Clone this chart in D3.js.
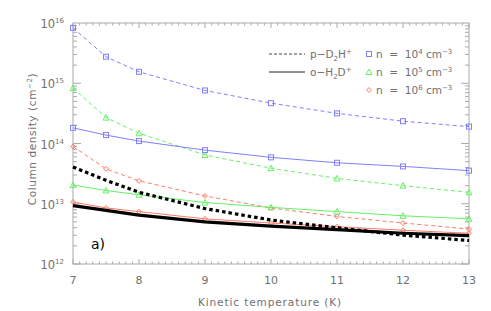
<!DOCTYPE html>
<html>
<head>
<meta charset="utf-8">
<script src="https://cdn.jsdelivr.net/npm/d3@7"></script>
<style>
  body { margin: 0; background: #fff; }
  text { font-family: "DejaVu Sans", sans-serif; fill: #707070; }
</style>
</head>
<body>
<svg id="chart" width="491" height="311"></svg>
<script>
// temperatures (K)
var temps = [7, 7.5, 8, 9, 10, 11, 12, 13];

// log10 column densities
var pD2H_n4 = [15.92, 15.44, 15.19, 14.88, 14.67, 14.50, 14.37, 14.28];
var oH2D_n4 = [14.26, 14.14, 14.04, 13.89, 13.77, 13.68, 13.62, 13.55];
var pD2H_n5 = [14.92, 14.43, 14.17, 13.81, 13.59, 13.42, 13.30, 13.19];
var oH2D_n5 = [13.31, 13.22, 13.15, 13.02, 12.94, 12.87, 12.80, 12.75];
var pD2H_n6 = [13.95, 13.58, 13.38, 13.13, 12.93, 12.79, 12.68, 12.58];
var oH2D_n6 = [13.03, 12.93, 12.87, 12.75, 12.68, 12.62, 12.56, 12.51];
var pD2H_blk = [13.61, 13.39, 13.19, 12.92, 12.73, 12.60, 12.48, 12.39];
var oH2D_blk = [12.97, 12.89, 12.81, 12.70, 12.63, 12.57, 12.51, 12.47];

var yTicks = [12, 13, 14, 15, 16];
var xTicks = [7, 8, 9, 10, 11, 12, 13];

var svg = d3.select('#chart');
var pLeft = 73, pRight = 469, pTop = 23, pBottom = 264;

var x = d3.scaleLinear().domain([7, 13]).range([pLeft, pRight]);
var y = d3.scaleLog().domain([1e12, 1e16]).range([pBottom, pTop]);

var axisCol = '#aaa';

// x ticks (minor every 0.1)
var xMinor = d3.range(70, 131).map(function(d) { return d / 10; });
xMinor.forEach(function(t) {
	var major = Math.abs(t - Math.round(t)) < 1e-6;
	var len = major ? 5 : 2.5;
	svg.append('line').attr('x1', x(t)).attr('x2', x(t))
		.attr('y1', pBottom).attr('y2', pBottom - len)
		.style('stroke', axisCol);
	svg.append('line').attr('x1', x(t)).attr('x2', x(t))
		.attr('y1', pTop).attr('y2', pTop + len)
		.style('stroke', axisCol);
});
xTicks.forEach(function(t) {
	svg.append('text')
		.attr('x', x(t)).attr('y', 284)
		.attr('text-anchor', 'middle')
		.style('font-size', '11px')
		.text(t);
});

// y ticks (log minor)
for (var e = 12; e < 16; e++) {
	for (var m = 1; m <= 9; m++) {
		var v = m * Math.pow(10, e);
		var len = m === 1 ? 8 : 4;
		svg.append('line').attr('x1', pLeft).attr('x2', pLeft + len)
			.attr('y1', y(v)).attr('y2', y(v)).style('stroke', axisCol);
		svg.append('line').attr('x1', pRight).attr('x2', pRight - len)
			.attr('y1', y(v)).attr('y2', y(v)).style('stroke', axisCol);
	}
}
yTicks.forEach(function(e) {
	var t = svg.append('text')
		.attr('x', 64).attr('y', y(Math.pow(10, e)) + 5)
		.attr('text-anchor', 'end')
		.style('font-size', '11.5px');
	t.append('tspan').text('10');
	t.append('tspan').attr('dy', -5).style('font-size', '7px').text(e);
});

// frame
svg.append('rect')
	.attr('x', pLeft).attr('y', pTop)
	.attr('width', pRight - pLeft).attr('height', pBottom - pTop)
	.style('fill', 'none').style('stroke', axisCol).style('stroke-width', 1);

// axis titles
svg.append('text')
	.attr('x', 270).attr('y', 306)
	.attr('text-anchor', 'middle')
	.style('font-size', '10.5px')
	.style('letter-spacing', '0.9px')
	.text('Kinetic temperature (K)');

var yt = svg.append('text')
	.attr('transform', 'translate(36,139) rotate(-90)')
	.attr('text-anchor', 'middle')
	.style('font-size', '10.5px')
	.style('letter-spacing', '0.6px');
yt.append('tspan').text('Column density (cm');
yt.append('tspan').attr('dy', -4).style('font-size', '7px').text('−2');
yt.append('tspan').attr('dy', 4).text(')');

// series
var line = d3.line()
	.x(function(d) { return x(d[0]); })
	.y(function(d) { return y(Math.pow(10, d[1])); });

var blue = '#7f7fff', green = '#66f066', red = '#ff7a66';

var series = [
	{ v: pD2H_n6, col: red, dash: '4,3', w: 1, mk: 'diamond' },
	{ v: oH2D_n6, col: red, dash: null, w: 1, mk: 'diamond' },
	{ v: pD2H_n5, col: green, dash: '4,3', w: 1, mk: 'triangle' },
	{ v: oH2D_n5, col: green, dash: null, w: 1, mk: 'triangle' },
	{ v: pD2H_n4, col: blue, dash: '4,3', w: 1, mk: 'square' },
	{ v: oH2D_n4, col: blue, dash: null, w: 1, mk: 'square' },
	{ v: oH2D_blk, col: '#000', dash: null, w: 3.2, mk: null },
	{ v: pD2H_blk, col: '#000', dash: '3.5,3', w: 3.2, mk: null }
];

function marker(g, kind, cx, cy, col) {
	if (kind === 'square') {
		g.append('rect').attr('x', cx - 2.5).attr('y', cy - 2.5)
			.attr('width', 5).attr('height', 5)
			.style('fill', 'none').style('stroke', col);
	} else if (kind === 'triangle') {
		g.append('path')
			.attr('d', 'M' + cx + ',' + (cy - 3) + 'L' + (cx + 3) + ',' + (cy + 2.5) + 'L' + (cx - 3) + ',' + (cy + 2.5) + 'Z')
			.style('fill', 'none').style('stroke', col);
	} else {
		g.append('path')
			.attr('d', 'M' + cx + ',' + (cy - 2.5) + 'L' + (cx + 2.5) + ',' + cy + 'L' + cx + ',' + (cy + 2.5) + 'L' + (cx - 2.5) + ',' + cy + 'Z')
			.style('fill', 'none').style('stroke', col);
	}
}

series.forEach(function(s) {
	var pts = temps.map(function(t, i) { return [t, s.v[i]]; });
	var g = svg.append('g');
	g.append('path')
		.attr('d', line(pts))
		.style('fill', 'none')
		.style('stroke', s.col)
		.style('stroke-width', s.w)
		.style('stroke-dasharray', s.dash);
	if (s.mk) {
		pts.forEach(function(p) {
			marker(g, s.mk, x(p[0]), y(Math.pow(10, p[1])), s.col);
		});
	}
});

// legend
var lg = svg.append('g');
lg.append('line').attr('x1', 269).attr('x2', 305).attr('y1', 54).attr('y2', 54)
	.style('stroke', '#444').style('stroke-dasharray', '3,2');
lg.append('line').attr('x1', 269).attr('x2', 305).attr('y1', 72).attr('y2', 72)
	.style('stroke', '#222');

function chem(yy, pre, sub, mid, sup) {
	var t = lg.append('text').attr('x', 310).attr('y', yy + 4).style('font-size', '10.5px');
	t.append('tspan').text(pre);
	t.append('tspan').attr('dy', 3).style('font-size', '7px').text(sub);
	t.append('tspan').attr('dy', -3).text(mid);
	t.append('tspan').attr('dy', -4).style('font-size', '7px').text(sup);
}
chem(54, 'p−D', '2', 'H', '+');
chem(72, 'o−H', '2', 'D', '+');

var legN = [
	{ e: '4', col: blue, mk: 'square', yy: 54 },
	{ e: '5', col: green, mk: 'triangle', yy: 72 },
	{ e: '6', col: red, mk: 'diamond', yy: 90 }
];
legN.forEach(function(d) {
	marker(lg, d.mk, 369, d.yy, d.col);
	var t = lg.append('text').attr('x', 376).attr('y', d.yy + 4)
		.style('font-size', '10.5px').attr('xml:space', 'preserve');
	t.append('tspan').text('n  =  10');
	t.append('tspan').attr('dy', -4).style('font-size', '7px').text(d.e);
	t.append('tspan').attr('dy', 4).text(' cm');
	t.append('tspan').attr('dy', -4).style('font-size', '7px').text('−3');
});

// panel label
svg.append('text').attr('x', 91).attr('y', 249)
	.style('font-size', '14px').style('fill', '#000').text('a)');
</script>
</body>
</html>
